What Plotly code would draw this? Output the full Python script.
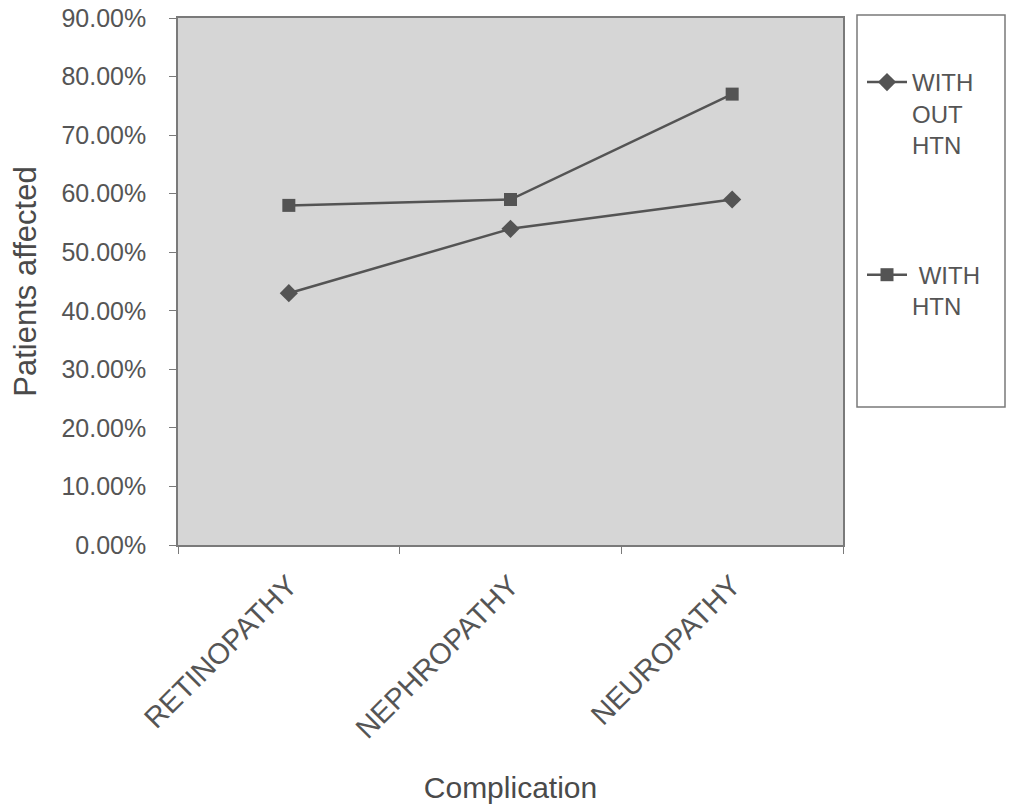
import plotly.graph_objects as go

categories = ["RETINOPATHY", "NEPHROPATHY", "NEUROPATHY"]
without_htn = [0.43, 0.54, 0.59]
with_htn = [0.58, 0.59, 0.77]
series_names = ["WITH<br>OUT<br>HTN", " WITH<br>HTN"]
y_ticks = [i / 10 for i in range(10)]

GREY = "#545454"
TXT = "#555555"
FONT = "Liberation Sans, Arial, sans-serif"

fig = go.Figure()
fig.add_trace(go.Scatter(
    x=categories, y=without_htn, name=series_names[0], mode="lines+markers",
    line=dict(color=GREY, width=2.5), legendgroup="a",
    marker=dict(symbol="diamond", size=14, color=GREY),
))
fig.add_trace(go.Scatter(
    x=categories, y=with_htn, name=series_names[1], mode="lines+markers",
    line=dict(color=GREY, width=2.5), legendgroup="b",
    marker=dict(symbol="square", size=13, color=GREY),
))

W, H = 1009, 806
L, R, T, B = 178, 843, 18, 545
PW, PH = R - L, B - T
fig.update_layout(
    width=W, height=H,
    margin=dict(l=L, r=W - R, t=T, b=H - B, pad=0),
    paper_bgcolor="white",
    plot_bgcolor="#d6d6d6",
    font=dict(family=FONT, color=TXT, size=25),
    showlegend=True,
    legend=dict(
        x=(862 - L) / PW, y=1 - (60 - T) / PH,
        xanchor="left", yanchor="top", valign="top",
        bgcolor="rgba(0,0,0,0)", borderwidth=0,
        font=dict(size=24, color=TXT, family=FONT),
        itemwidth=40, tracegroupgap=96, traceorder="grouped",
    ),
    shapes=[dict(
        type="rect", xref="paper", yref="paper",
        x0=(857 - L) / PW, x1=(1005 - L) / PW,
        y0=1 - (407 - T) / PH, y1=1 - (15 - T) / PH,
        line=dict(color="#7a7a7a", width=1.5), fillcolor="rgba(0,0,0,0)",
        layer="below",
    )],
)
fig.update_xaxes(
    type="category", range=[-0.5, 2.5], tickangle=-45, automargin=False,
    showgrid=False, zeroline=False,
    showline=True, linecolor="#7a7a7a", linewidth=1.5, mirror=True,
    ticks="outside", tickson="boundaries", ticklen=7, tickcolor="#7a7a7a",
    ticklabelstandoff=10,
    tickfont=dict(size=29, color=TXT),
    title=dict(text="Complication", font=dict(size=30, color="#4a4a4a"), standoff=33),
)
fig.update_yaxes(
    range=[0, 0.9], tickvals=y_ticks + [0.9], tickformat=".2%", automargin=False,
    showgrid=False, zeroline=False,
    showline=True, linecolor="#7a7a7a", linewidth=1.5, mirror=True,
    ticks="outside", ticklen=7, tickcolor="#7a7a7a",
    ticklabelstandoff=18,
    tickfont=dict(size=25, color=TXT),
    title=dict(text="Patients affected", font=dict(size=31, color="#4a4a4a"), standoff=16),
)

fig.write_html("out.html")
